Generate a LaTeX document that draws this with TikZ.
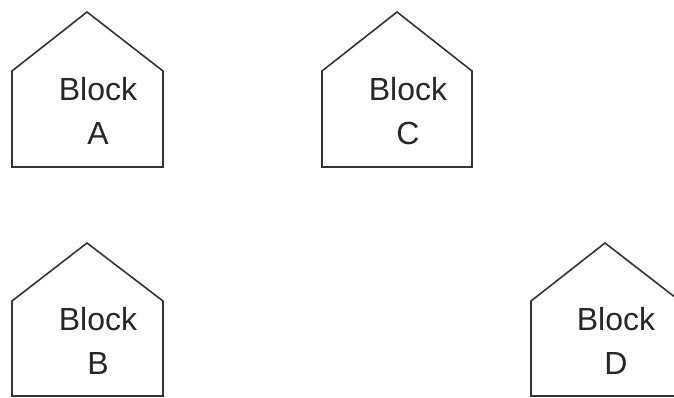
\documentclass[tikz,border=0pt]{standalone}
\usepackage{fontspec}
\setmainfont{Liberation Sans}
\usepackage{tikz}
\definecolor{houseline}{gray}{0.2}
\tikzset{
	housebox/.style={draw=houseline, line width=1.6pt, line join=miter},
	housetext/.style={align=center, inner sep=0pt, text=black!85,
		font=\fontsize{32}{44}\selectfont}
}

\begin{document}
\begin{tikzpicture}[x=1pt, y=-1pt]
		\useasboundingbox (0,0) rectangle (674,397);

		\draw[housebox] (12,167) -- (12,71) -- (87,12) -- (163,71) -- (163,167) -- cycle;
		\node[housetext] (blockA) at (98,111) {Block\\A};

		\draw[housebox] (322,167) -- (322,71) -- (397,12) -- (472,71) -- (472,167) -- cycle;
		\node[housetext] (blockC) at (408,111) {Block\\C};

		\draw[housebox] (12,396) -- (12,301) -- (87,243) -- (163,301) -- (163,396) -- cycle;
		\node[housetext] (blockB) at (98,341) {Block\\B};

		\draw[housebox] (531,396) -- (531,301) -- (605,243) -- (680,301) -- (680,396) -- cycle;
		\node[housetext] (blockD) at (616,341) {Block\\D};
	\end{tikzpicture}
\end{document}
